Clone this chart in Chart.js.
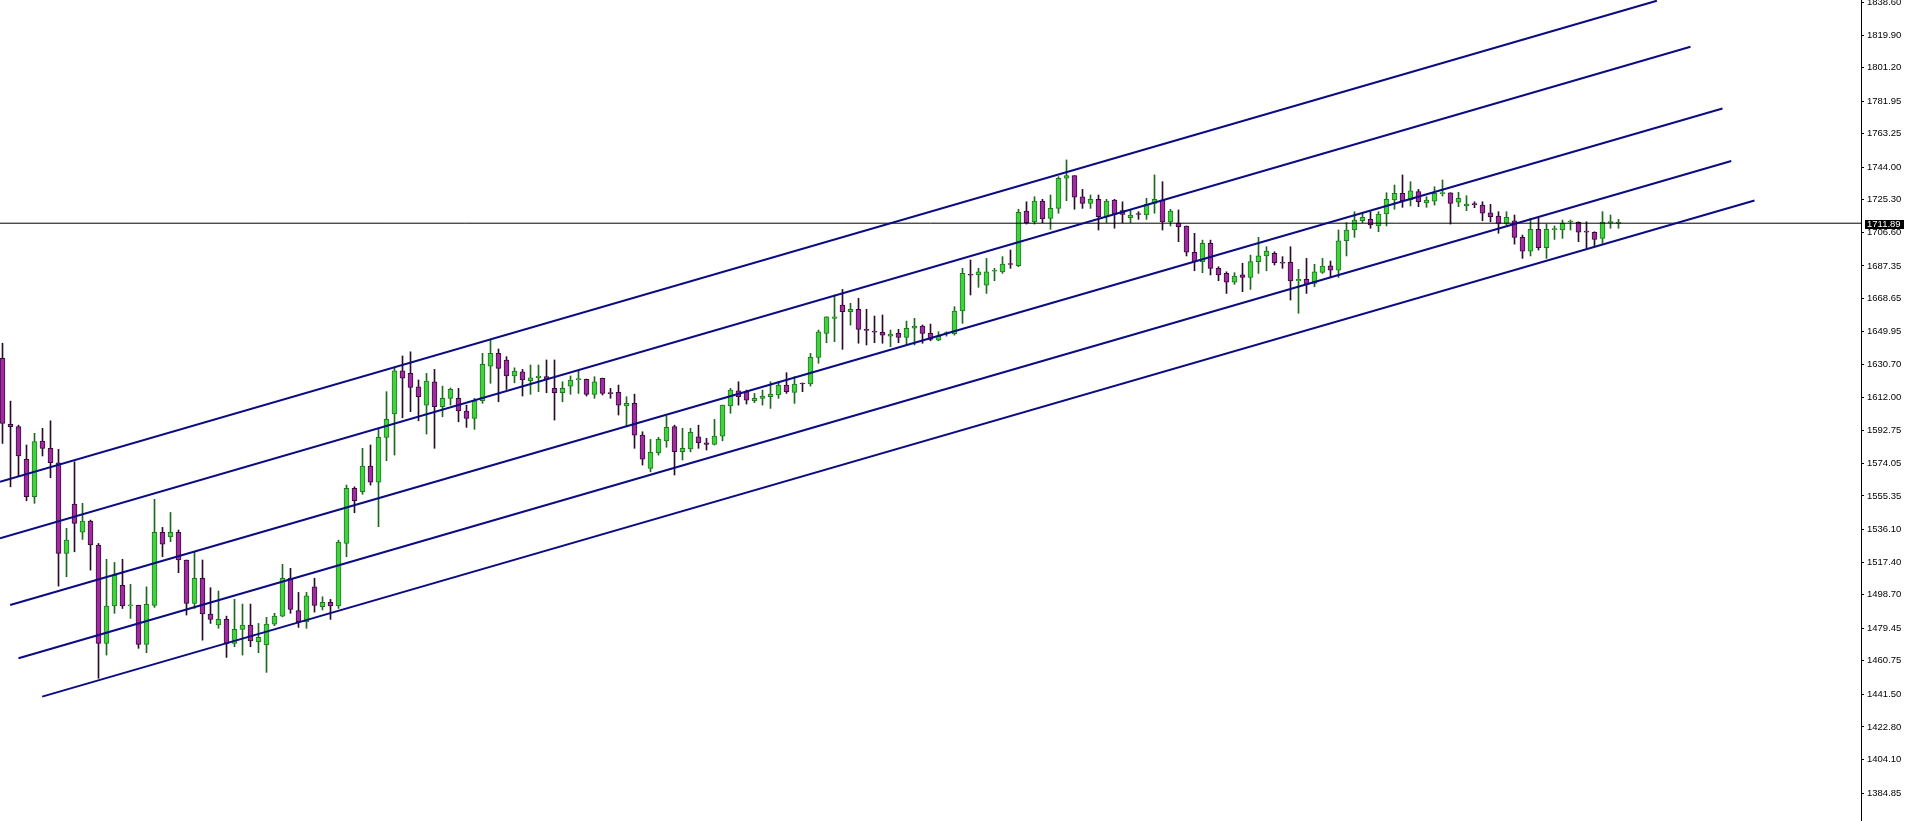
<!DOCTYPE html>
<html>
<head>
<meta charset="utf-8">
<script src="https://cdn.jsdelivr.net/npm/chart.js@4.4.1/dist/chart.umd.min.js"></script>
<style>
  html, body { margin: 0; padding: 0; background: #fff; overflow: hidden; }
  canvas { display: block; }
</style>
</head>
<body>
<canvas id="precoChart" width="1907" height="821"></canvas>
<script>
// Candles (one per bar, left to right)
const opens = [
  1634.3, 1596.5, 1595.1, 1576.4, 1554.9, 1586.9, 1582.7, 1574.4, 1522.4, 1550.7,
  1534.5, 1541.0, 1527.2, 1470.7, 1492.2, 1504.0, 1492.3, 1492.6, 1470.2, 1492.6,
  1534.5, 1531.9, 1534.5, 1518.6, 1493.7, 1508.1, 1487.6, 1481.3, 1484.5, 1470.7,
  1478.8, 1481.3, 1471.7, 1469.8, 1481.8, 1486.4, 1508.1, 1489.5, 1483.0, 1503.2,
  1491.8, 1494.3, 1492.2, 1528.1, 1559.7, 1557.8, 1572.5, 1563.2, 1589.0, 1602.4,
  1627.2, 1625.7, 1618.0, 1607.5, 1620.9, 1606.6, 1611.4, 1611.4, 1604.1, 1599.9,
  1610.0, 1629.9, 1637.2, 1633.4, 1624.2, 1626.6, 1621.5, 1623.2, 1623.8, 1617.1,
  1614.6, 1618.4, 1622.1, 1622.3, 1613.7, 1622.9, 1614.4, 1614.8, 1607.1, 1608.5,
  1590.3, 1571.2, 1580.2, 1587.0, 1595.1, 1580.7, 1582.3, 1589.3, 1585.9, 1585.0,
  1589.7, 1607.0, 1615.7, 1615.2, 1610.0, 1611.4, 1612.3, 1613.3, 1619.0, 1614.8,
  1620.0, 1619.6, 1634.9, 1648.7, 1657.3, 1664.9, 1661.1, 1662.5, 1650.8, 1649.7,
  1649.3, 1647.1, 1648.7, 1646.4, 1651.6, 1652.9, 1648.7, 1644.8, 1648.5, 1648.3,
  1661.5, 1682.3, 1682.2, 1676.4, 1684.3, 1684.0, 1688.5, 1687.5, 1718.9, 1712.7,
  1724.6, 1714.7, 1720.4, 1737.7, 1739.2, 1727.1, 1723.3, 1725.6, 1715.6, 1725.2,
  1719.1, 1715.0, 1717.2, 1716.6, 1723.3, 1725.2, 1712.7, 1711.8, 1710.3, 1695.2,
  1689.8, 1700.3, 1686.0, 1683.1, 1678.0, 1682.2, 1680.8, 1689.8, 1693.1, 1694.6,
  1689.3, 1689.4, 1678.7, 1679.7, 1677.4, 1683.7, 1687.5, 1685.0, 1701.8, 1708.0,
  1713.3, 1714.1, 1710.3, 1717.2, 1725.2, 1729.0, 1725.2, 1730.0, 1723.6, 1724.6,
  1728.9, 1729.4, 1723.9, 1721.8, 1722.9, 1722.3, 1717.9, 1716.0, 1711.8, 1713.3,
  1703.8, 1695.9, 1708.4, 1697.8, 1708.2, 1708.0, 1712.6, 1712.4, 1707.1, 1706.7,
  1703.2, 1712.2, 1711.8
];
const highs = [
  1643.0, 1609.8, 1596.0, 1584.6, 1591.3, 1594.2, 1598.5, 1582.1, 1536.8, 1575.0,
  1551.1, 1541.5, 1528.1, 1519.0, 1517.2, 1519.0, 1504.6, 1492.7, 1503.2, 1553.4,
  1537.3, 1545.9, 1535.8, 1518.6, 1523.3, 1518.6, 1502.7, 1500.8, 1486.4, 1496.0,
  1493.3, 1493.3, 1482.2, 1485.7, 1488.0, 1516.1, 1513.8, 1500.0, 1500.0, 1508.1,
  1497.5, 1496.0, 1530.0, 1561.6, 1560.6, 1582.7, 1584.6, 1594.2, 1615.2, 1628.6,
  1635.7, 1638.1, 1621.9, 1625.7, 1628.0, 1618.4, 1617.3, 1617.1, 1607.5, 1611.4,
  1637.2, 1644.8, 1639.7, 1635.3, 1628.9, 1628.0, 1630.5, 1630.5, 1633.4, 1633.4,
  1620.9, 1624.2, 1627.6, 1622.5, 1623.8, 1623.0, 1617.1, 1619.0, 1612.3, 1613.8,
  1592.2, 1587.8, 1589.0, 1601.2, 1596.0, 1594.2, 1594.2, 1596.0, 1588.4, 1599.3,
  1607.5, 1617.1, 1620.9, 1616.1, 1614.2, 1616.1, 1620.9, 1620.9, 1626.1, 1623.8,
  1620.2, 1637.2, 1650.6, 1658.2, 1670.7, 1673.9, 1665.9, 1668.8, 1662.5, 1658.6,
  1659.2, 1650.6, 1651.0, 1655.7, 1657.3, 1653.5, 1654.0, 1649.6, 1649.6, 1664.0,
  1686.0, 1690.8, 1686.0, 1691.7, 1686.0, 1692.7, 1696.5, 1719.9, 1724.2, 1727.1,
  1725.6, 1728.1, 1738.6, 1748.2, 1739.2, 1731.3, 1728.1, 1728.1, 1725.6, 1725.6,
  1724.2, 1719.5, 1718.5, 1726.2, 1739.6, 1735.7, 1719.9, 1719.5, 1710.3, 1706.1,
  1702.2, 1702.2, 1686.9, 1684.0, 1683.5, 1688.9, 1693.6, 1703.8, 1698.4, 1695.5,
  1692.7, 1698.4, 1685.4, 1691.7, 1688.3, 1691.7, 1690.2, 1708.0, 1712.2, 1718.5,
  1717.9, 1718.5, 1718.5, 1729.4, 1733.8, 1739.6, 1735.7, 1731.3, 1727.1, 1732.8,
  1736.7, 1729.4, 1729.6, 1727.7, 1724.2, 1724.2, 1722.7, 1718.5, 1718.5, 1716.6,
  1705.1, 1714.7, 1714.7, 1711.4, 1710.3, 1713.7, 1713.7, 1712.7, 1712.7, 1707.0,
  1718.5, 1716.6, 1714.1
];
const lows = [
  1585.5, 1560.6, 1566.8, 1552.6, 1551.1, 1578.3, 1565.8, 1503.6, 1509.0, 1523.3,
  1530.4, 1512.8, 1450.7, 1464.0, 1488.0, 1490.8, 1485.1, 1467.9, 1465.4, 1491.4,
  1520.5, 1529.1, 1511.3, 1487.0, 1490.8, 1472.6, 1482.2, 1479.4, 1462.7, 1468.8,
  1464.0, 1468.8, 1465.4, 1454.1, 1480.9, 1486.0, 1488.0, 1479.9, 1479.4, 1488.7,
  1489.9, 1484.5, 1490.8, 1520.5, 1545.7, 1556.3, 1561.6, 1537.7, 1575.6, 1578.8,
  1600.2, 1603.7, 1598.5, 1590.9, 1582.7, 1600.8, 1607.5, 1597.9, 1594.7, 1593.6,
  1608.5, 1620.0, 1609.4, 1616.5, 1620.3, 1612.7, 1613.7, 1615.2, 1614.6, 1598.9,
  1609.4, 1613.7, 1614.2, 1612.7, 1611.4, 1613.3, 1611.4, 1601.8, 1595.1, 1582.7,
  1573.1, 1569.2, 1578.8, 1583.3, 1567.4, 1576.0, 1580.7, 1582.7, 1581.7, 1584.6,
  1587.0, 1602.8, 1607.5, 1608.1, 1608.9, 1607.5, 1605.6, 1611.4, 1614.2, 1608.5,
  1615.2, 1618.4, 1631.5, 1643.3, 1643.9, 1639.5, 1653.4, 1643.0, 1642.0, 1643.3,
  1643.0, 1641.0, 1643.3, 1642.0, 1642.0, 1643.0, 1644.4, 1644.4, 1647.1, 1647.7,
  1654.4, 1670.7, 1675.1, 1671.6, 1678.9, 1683.1, 1686.0, 1686.9, 1711.4, 1711.4,
  1712.2, 1708.4, 1717.6, 1724.8, 1719.9, 1720.4, 1720.4, 1708.0, 1712.2, 1709.0,
  1712.2, 1712.2, 1714.1, 1714.1, 1717.6, 1708.0, 1710.3, 1701.3, 1693.1, 1684.6,
  1683.5, 1682.2, 1678.9, 1671.6, 1676.8, 1672.6, 1673.9, 1683.1, 1684.6, 1687.9,
  1686.0, 1667.8, 1660.2, 1671.6, 1675.4, 1683.1, 1680.8, 1680.8, 1693.1, 1703.8,
  1712.2, 1709.0, 1707.0, 1710.3, 1719.9, 1721.0, 1721.8, 1721.4, 1721.0, 1722.3,
  1727.5, 1711.4, 1721.4, 1719.1, 1720.8, 1713.3, 1712.7, 1706.1, 1710.9, 1699.9,
  1691.7, 1693.1, 1696.5, 1691.7, 1702.6, 1703.2, 1708.0, 1701.3, 1697.5, 1698.4,
  1700.3, 1709.0, 1709.0
];
const closes = [
  1597.0, 1595.1, 1578.3, 1554.9, 1586.5, 1582.7, 1574.4, 1522.4, 1530.0, 1539.6,
  1541.0, 1527.2, 1470.7, 1492.2, 1510.0, 1492.3, 1492.7, 1470.2, 1493.1, 1534.5,
  1527.7, 1534.5, 1518.6, 1493.7, 1508.1, 1487.6, 1484.5, 1484.5, 1470.7, 1478.8,
  1481.3, 1472.2, 1474.2, 1481.8, 1486.4, 1508.1, 1490.3, 1483.0, 1498.1, 1492.6,
  1494.3, 1492.3, 1528.9, 1559.7, 1552.6, 1572.5, 1563.2, 1589.0, 1599.3, 1627.2,
  1622.9, 1617.7, 1612.3, 1621.3, 1606.6, 1611.4, 1616.5, 1604.1, 1599.9, 1610.0,
  1630.9, 1637.2, 1628.6, 1624.2, 1627.0, 1621.9, 1623.2, 1624.2, 1622.3, 1614.6,
  1617.1, 1621.9, 1622.3, 1613.7, 1620.9, 1614.2, 1614.1, 1607.5, 1608.5, 1590.3,
  1576.4, 1580.4, 1587.8, 1594.7, 1580.7, 1582.7, 1591.9, 1585.9, 1585.0, 1589.7,
  1607.5, 1616.1, 1612.3, 1610.4, 1611.4, 1612.7, 1613.8, 1619.0, 1615.2, 1619.6,
  1619.6, 1634.9, 1649.6, 1658.2, 1658.2, 1661.1, 1662.5, 1651.0, 1650.4, 1649.4,
  1647.7, 1648.3, 1646.4, 1651.6, 1652.9, 1648.7, 1645.2, 1647.1, 1648.7, 1661.5,
  1683.1, 1682.0, 1684.0, 1684.0, 1684.4, 1688.5, 1688.2, 1718.1, 1712.2, 1724.6,
  1714.3, 1720.4, 1737.7, 1739.2, 1726.8, 1723.3, 1725.6, 1715.6, 1724.6, 1717.0,
  1717.0, 1716.6, 1716.9, 1722.7, 1725.6, 1712.7, 1718.9, 1709.9, 1695.2, 1689.8,
  1700.3, 1686.0, 1682.2, 1678.0, 1681.6, 1680.8, 1689.8, 1693.1, 1695.9, 1689.2,
  1689.0, 1678.7, 1679.7, 1676.8, 1684.0, 1687.3, 1685.0, 1701.8, 1708.0, 1713.7,
  1715.3, 1710.9, 1717.2, 1725.6, 1729.0, 1724.8, 1730.5, 1724.2, 1725.2, 1729.0,
  1729.2, 1723.3, 1726.2, 1722.9, 1722.6, 1717.6, 1715.6, 1711.8, 1715.3, 1703.8,
  1695.9, 1708.4, 1697.8, 1708.4, 1708.4, 1711.8, 1712.7, 1706.7, 1706.8, 1702.6,
  1712.4, 1712.4, 1711.89
];

const lastPrice = 1711.89;

const priceTicks = [
  1838.60, 1819.90, 1801.20, 1781.95, 1763.25, 1744.00, 1725.30, 1706.60, 1687.35,
  1668.65, 1649.95, 1630.70, 1612.00, 1592.75, 1574.05, 1555.35, 1536.10, 1517.40,
  1498.70, 1479.45, 1460.75, 1441.50, 1422.80, 1404.10, 1384.85
];

// canal: [barra inicial, preço inicial, barra final, preço final]
const channelLines = [
  [-0.31, 1563.5, 206.8, 1839.6],
  [-0.31, 1531.1, 211.0, 1813.2],
  [0.96, 1492.8, 215.0, 1777.7],
  [2.0, 1462.2, 216.1, 1747.6],
  [4.96, 1440.2, 219.0, 1724.9]
];

const bullFill = '#3fd43f';
const bullEdge = '#1f7a1f';
const bearFill = '#a12ba1';
const bearEdge = '#3a0c3a';

const isUp = opens.map((o, i) => closes[i] >= o);
const wickData = opens.map((o, i) => ({ x: i, y: [lows[i], highs[i]] }));
const bodyData = opens.map((o, i) => ({ x: i, y: [o, closes[i]] }));

const lineSets = channelLines.map(l => ({
    type: 'line',
    data: [{ x: l[0], y: l[1] }, { x: l[2], y: l[3] }],
    borderColor: '#0b0b82',
    borderWidth: 2,
    pointRadius: 0,
    tension: 0,
    order: 0
}));

// caixa preta com o último preço no eixo
const lastPriceLabel = {
    id: 'lastPriceLabel',
    afterDraw(chart) {
        const ctx = chart.ctx;
        const y = chart.scales.y.getPixelForValue(lastPrice);
        const left = chart.chartArea.right + 4;
        ctx.save();
        ctx.fillStyle = '#000';
        ctx.fillRect(left, Math.round(y) - 3, 39, 9);
        ctx.fillStyle = '#fff';
        ctx.font = '9.5px "Liberation Sans", Arial, sans-serif';
        ctx.textBaseline = 'middle';
        ctx.textAlign = 'left';
        ctx.fillText(lastPrice.toFixed(2), left + 2, Math.round(y) + 1.5);
        ctx.restore();
    }
};

const precoCtx = document.getElementById('precoChart').getContext('2d');
const precoChart = new Chart(precoCtx, {
    type: 'bar',
    data: {
        datasets: [
            ...lineSets,
            {
                type: 'line',
                data: [{ x: -0.3125, y: lastPrice }, { x: 232.3125, y: lastPrice }],
                borderColor: '#000',
                borderWidth: 1,
                pointRadius: 0,
                order: 0
            },
            {
                data: bodyData,
                backgroundColor: isUp.map(u => u ? bullFill : bearFill),
                borderColor: isUp.map(u => u ? bullEdge : bearEdge),
                borderWidth: 1,
                borderSkipped: false,
                barThickness: 5,
                minBarLength: 1,
                grouped: false,
                order: 1
            },
            {
                data: wickData,
                backgroundColor: isUp.map(u => u ? '#1d6a1d' : '#2a0d2a'),
                borderWidth: 0,
                barThickness: 1,
                grouped: false,
                order: 2
            }
        ]
    },
    options: {
        responsive: false,
        animation: false,
        devicePixelRatio: 1,
        layout: { padding: 0 },
        plugins: {
            legend: { display: false },
            tooltip: { enabled: false }
        },
        scales: {
            x: {
                type: 'linear',
                min: -0.3125,
                max: 232.3125,
                offset: false,
                display: false
            },
            y: {
                type: 'linear',
                position: 'right',
                min: 1368.8,
                max: 1840.0,
                afterBuildTicks: (scale) => {
                    scale.ticks = priceTicks.slice().sort((a, b) => a - b).map(v => ({ value: v }));
                },
                afterFit: (scale) => {
                    scale.width = 46;
                    scale.paddingTop = 0;
                    scale.paddingBottom = 0;
                },
                ticks: {
                    autoSkip: false,
                    padding: 3,
                    color: '#000',
                    font: { family: '"Liberation Sans", Arial, sans-serif', size: 9.5 },
                    callback: (v) => Number(v).toFixed(2)
                },
                grid: { drawOnChartArea: false, drawTicks: true, tickLength: 3, color: '#000' },
                border: { display: true, color: '#000', width: 1 }
            }
        }
    },
    plugins: [lastPriceLabel]
});
</script>
</body>
</html>
